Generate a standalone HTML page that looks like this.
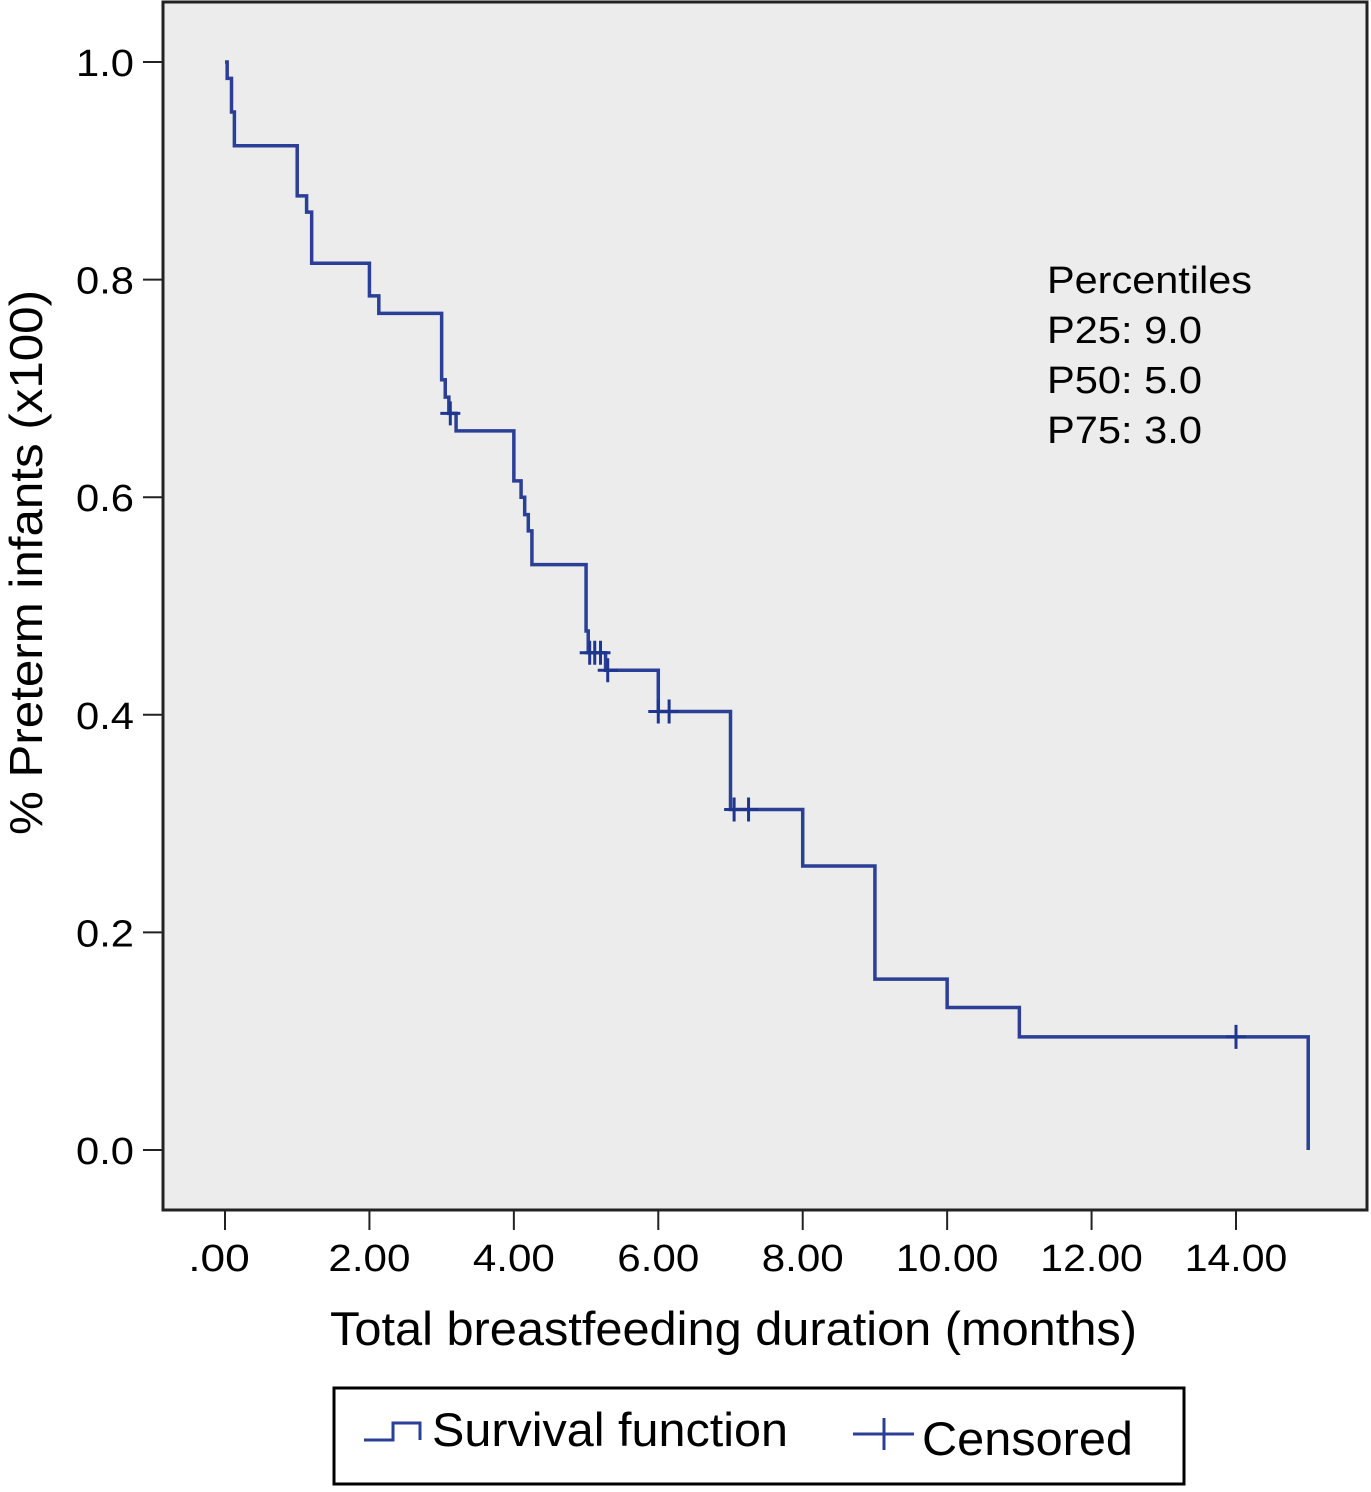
<!DOCTYPE html>
<html><head><meta charset="utf-8"><style>
body{margin:0;background:#fff;}
svg text{font-family:"Liberation Sans",Arial,sans-serif;fill:#000;}
</style></head><body>
<svg id="chart" width="1371" height="1487" viewBox="0 0 1371 1487">
<rect x="163" y="2" width="1204" height="1208" fill="#ececec" stroke="#222" stroke-width="3"/>
<g id="axes"></g>
<g id="series"></g>
<g font-size="38">
<text x="1047" y="293" textLength="205" lengthAdjust="spacingAndGlyphs">Percentiles</text>
<text x="1047" y="343" textLength="155" lengthAdjust="spacingAndGlyphs">P25: 9.0</text>
<text x="1047" y="393" textLength="155" lengthAdjust="spacingAndGlyphs">P50: 5.0</text>
<text x="1047" y="443" textLength="155" lengthAdjust="spacingAndGlyphs">P75: 3.0</text>
</g>
<text x="330" y="1345" font-size="47" textLength="807" lengthAdjust="spacingAndGlyphs">Total breastfeeding duration (months)</text>
<text transform="translate(42,835) rotate(-90)" font-size="46" textLength="545" lengthAdjust="spacingAndGlyphs">% Preterm infants (x100)</text>
<g>
<rect x="334" y="1388" width="850" height="96" fill="#fff" stroke="#000" stroke-width="3"/>
<path d="M364 1440 H393 V1423 H420 V1440" fill="none" stroke="#2b3f96" stroke-width="3"/>
<text x="432" y="1446" font-size="47" textLength="356" lengthAdjust="spacingAndGlyphs">Survival function</text>
<path d="M853 1434 H914 M884 1418 V1450" stroke="#2b3f96" stroke-width="3"/>
<text x="922" y="1455" font-size="47" textLength="211" lengthAdjust="spacingAndGlyphs">Censored</text>
</g>
</svg>
<script>
const eventTimes=[0.03,0.09,0.13,1.0,1.13,1.2,2.0,2.13,3.0,3.05,3.1,3.2,4.0,4.1,4.15,4.2,4.25,5.0,5.03,5.27,6.0,7.0,8.0,9.0,10.0,11.0,15.0];
const survival=[0.985,0.954,0.923,0.877,0.862,0.815,0.785,0.769,0.708,0.692,0.677,0.661,0.615,0.600,0.584,0.569,0.538,0.477,0.457,0.441,0.403,0.313,0.261,0.157,0.131,0.104,0.0];
const censoredTimes=[3.12,5.05,5.12,5.2,5.3,6.0,6.15,7.05,7.25,14.0];
const xTicks=[0,2,4,6,8,10,12,14];
const xTickLabels=[".00","2.00","4.00","6.00","8.00","10.00","12.00","14.00"];
const yTicks=[0,0.2,0.4,0.6,0.8,1.0];
const yTickLabels=["0.0","0.2","0.4","0.6","0.8","1.0"];
const NS="http://www.w3.org/2000/svg";
const X=t=>225+t*(1236-225)/14;
const Y=v=>1150-v*1088;
function mk(tag,attrs,parent){const e=document.createElementNS(NS,tag);for(const k in attrs)e.setAttribute(k,attrs[k]);parent.appendChild(e);return e;}
const axes=document.getElementById('axes');
xTicks.forEach((t,i)=>{
 const l=mk('line',{x1:X(t),x2:X(t),y1:1210,y2:1230,stroke:'#222','stroke-width':2},axes);
 
 
 const tx=mk('text',{x:X(t)-(i===0?6:0),y:1271,'font-size':38,'text-anchor':'middle',textLength:xTickLabels[i].length*20.5,lengthAdjust:'spacingAndGlyphs'},axes);
 tx.textContent=xTickLabels[i];
 
 
});
yTicks.forEach((v,i)=>{
 const l=mk('line',{x1:143,x2:163,y1:Y(v),y2:Y(v),stroke:'#222','stroke-width':2},axes);
 
 
 const tx=mk('text',{x:134,y:Y(v)+14,'font-size':38,'text-anchor':'end',textLength:58,lengthAdjust:'spacingAndGlyphs'},axes);
 tx.textContent=yTickLabels[i];
 
 
});
const ser=document.getElementById('series');
let d=`M${X(0)} ${Y(1)}`;
eventTimes.forEach((t,i)=>{d+=` H${X(t)} V${Y(survival[i])}`;});
const p=mk('path',{d:d,fill:'none',stroke:'#2b3f96','stroke-width':3.5},ser);


function S(t){let v=1;eventTimes.forEach((e,i)=>{if(e<=t)v=survival[i];});return v;}
censoredTimes.forEach(t=>{
 const x=X(t),y=Y(S(t));
 const c=mk('path',{d:`M${x-10} ${y} H${x+10} M${x} ${y-12} V${y+12}`,stroke:'#1f3690','stroke-width':3},ser);
 
 
});
</script>
</body></html>
